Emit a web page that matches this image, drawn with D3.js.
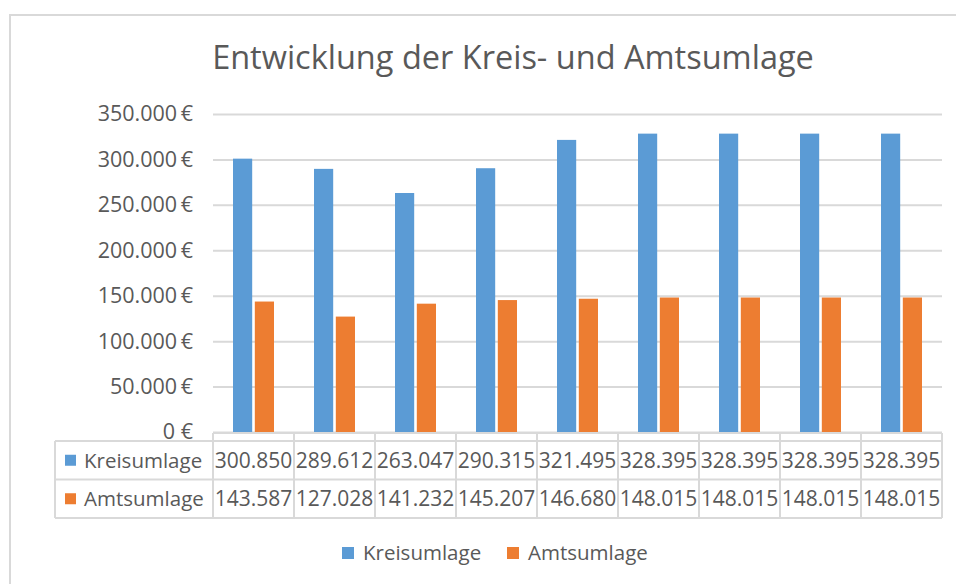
<!DOCTYPE html>
<html>
<head>
<meta charset="utf-8">
<script src="https://cdn.jsdelivr.net/npm/d3@7"></script>
<style>
  body { margin: 0; background: #fff; }
  text { font-family: 'Open Sans', sans-serif; fill: #595959; }
</style>
</head>
<body>
<div id="chart"></div>
<script>
// blank category labels (the data table header row is empty in the source)
const categories = ['', '', '', '', '', '', '', '', '']
const seriesNames = ['Kreisumlage', 'Amtsumlage']
const kreisumlage = [300850, 289612, 263047, 290315, 321495, 328395, 328395, 328395, 328395]
const amtsumlage = [143587, 127028, 141232, 145207, 146680, 148015, 148015, 148015, 148015]
const yTicks = [0, 50000, 100000, 150000, 200000, 250000, 300000, 350000]
const colors = ['#5B9BD5', '#ED7D31']

const W = 956
const H = 584
const plot = { left: 213, right: 942, top: 114, bottom: 432 }
const grid = '#d9d9d9'

const de = d3.formatLocale({ decimal: ',', thousands: '.', grouping: [3], currency: ['', ' €'] })
const fmtNum = de.format(',.0f')
const fmtEur = v => v === 0 ? '0 €' : fmtNum(v) + '\u2009€'

const series = [kreisumlage, amtsumlage]

const svg = d3.select('#chart').append('svg')
  .attr('width', W)
  .attr('height', H)

// chart area border (only top + left visible, rest runs off the picture)
svg.append('path')
  .attr('d', `M10,${H + 5}V15H${W + 5}`)
  .attr('fill', 'none')
  .attr('stroke', grid)
  .attr('stroke-width', 2)

svg.append('text')
  .attr('x', 513)
  .attr('y', 69)
  .attr('text-anchor', 'middle')
  .style('font-size', '32.5px')
  .text('Entwicklung der Kreis- und Amtsumlage')

const x = d3.scaleBand()
  .domain(categories.map((d, i) => i))
  .range([plot.left, plot.right])

const y = d3.scaleLinear()
  .domain([0, 350000])
  .range([plot.bottom, plot.top])

const x1 = d3.scaleBand()
  .domain(seriesNames)
  .range([20, x.bandwidth() - 20])
  .paddingInner(0.12)

// gridlines + y labels
const yAxis = svg.append('g')
  .attr('transform', `translate(${plot.left},0)`)
  .call(d3.axisLeft(y).tickValues(yTicks).tickFormat(fmtEur).tickSize(-(plot.right - plot.left)).tickPadding(20))
yAxis.select('.domain').remove()
yAxis.selectAll('.tick line').attr('stroke', grid).attr('stroke-width', 2)
yAxis.selectAll('.tick text')
  .attr('fill', '#595959')
  .style('font-size', '21.5px')
  .style('font-family', "'Open Sans', sans-serif")

// bars
series.forEach((vals, s) => {
  svg.append('g')
    .selectAll('rect')
    .data(vals)
    .join('rect')
    .attr('x', (d, i) => x(i) + x1(seriesNames[s]))
    .attr('y', d => y(d))
    .attr('width', x1.bandwidth())
    .attr('height', d => y(0) - y(d))
    .attr('fill', colors[s])
})

// data table
const rowTop = 441
const rowH = 38.5
const keyLeft = 55
const table = svg.append('g').attr('stroke', grid).attr('stroke-width', 2).attr('fill', 'none')

// header row (empty categories) + rows
table.append('line').attr('x1', plot.left).attr('x2', plot.right).attr('y1', y(0) + 1).attr('y2', y(0) + 1)
d3.range(series.length + 1).forEach(r => {
  table.append('line')
    .attr('x1', keyLeft).attr('x2', plot.right)
    .attr('y1', rowTop + r * rowH).attr('y2', rowTop + r * rowH)
})
table.append('line').attr('x1', keyLeft).attr('x2', keyLeft)
  .attr('y1', rowTop).attr('y2', rowTop + series.length * rowH)
categories.forEach((c, i) => {
  table.append('line').attr('x1', x(i)).attr('x2', x(i))
    .attr('y1', y(0) + 1).attr('y2', rowTop + series.length * rowH)
})
table.append('line').attr('x1', plot.right).attr('x2', plot.right)
  .attr('y1', y(0) + 1).attr('y2', rowTop + series.length * rowH)

series.forEach((vals, s) => {
  const cy = rowTop + (s + 0.5) * rowH
  svg.append('rect')
    .attr('x', 65).attr('y', cy - 5.5)
    .attr('width', 11).attr('height', 11)
    .attr('fill', colors[s])
  svg.append('text')
    .attr('x', 84).attr('y', cy + 7.5)
    .style('font-size', '20.5px')
    .text(seriesNames[s])
  svg.append('g')
    .selectAll('text')
    .data(vals)
    .join('text')
    .attr('x', (d, i) => x(i) + x.bandwidth() / 2)
    .attr('y', cy + 7.5)
    .attr('text-anchor', 'middle')
    .style('font-size', '21px')
    .text(d => fmtNum(d))
})

// legend
const legendX = [342, 507]
seriesNames.forEach((n, s) => {
  svg.append('rect')
    .attr('x', legendX[s]).attr('y', 547)
    .attr('width', 12).attr('height', 12)
    .attr('fill', colors[s])
  svg.append('text')
    .attr('x', legendX[s] + 21).attr('y', 560)
    .style('font-size', '20.5px')
    .text(n)
})
</script>
</body>
</html>
